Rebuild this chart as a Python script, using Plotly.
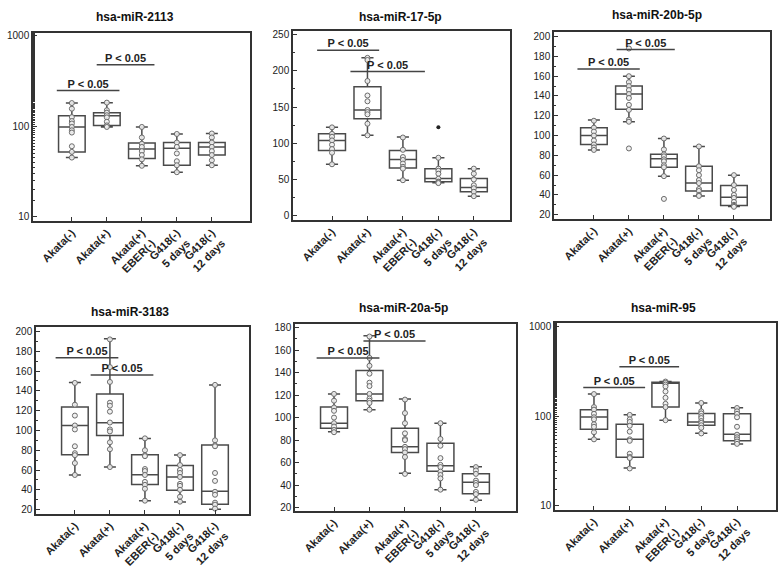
import plotly.graph_objects as go

categories = ["Akata(-)", "Akata(+)", "Akata(+)<br>EBER(-)", "G418(-)<br>5 days", "G418(-)<br>12 days"]
titles = ["hsa-miR-2113", "hsa-miR-17-5p", "hsa-miR-20b-5p", "hsa-miR-3183", "hsa-miR-20a-5p", "hsa-miR-95"]

# ---- hsa-miR-2113 ----
p1_lo = [45, 98, 36.5, 31, 37]
p1_q1 = [52, 102, 44, 37, 48]
p1_med = [98, 130, 56, 57, 59]
p1_q3 = [130, 141, 65, 66, 66]
p1_hi = [180, 182, 98, 82, 83]
p1_pts = [[180, 156, 126, 114, 107, 98, 90, 85, 60, 52, 45],
          [182, 150, 141, 132, 125, 112, 102, 98],
          [98, 75, 64, 59, 53, 48, 43, 36.5],
          [82, 66, 59, 50, 41, 37, 31],
          [83, 75, 66, 59, 53, 48, 42, 37]]
p1_out = [[], [], [], [], []]
p1_br = [(-0.43, 1.36, 248), (0.71, 2.36, 478)]

# ---- hsa-miR-17-5p ----
p2_lo = [71, 111, 49, 45.6, 27]
p2_q1 = [90, 134, 66, 47, 33]
p2_med = [104, 146, 77.5, 51.5, 39]
p2_q3 = [113, 178, 90, 65, 51.5]
p2_hi = [122, 218, 108.6, 80, 65]
p2_pts = [[122, 113, 109, 104, 98, 92, 87, 71],
          [218, 215, 186, 166, 158, 146, 143, 140, 127, 111],
          [108, 91, 81, 77, 72, 67.5, 65, 49],
          [80, 65, 62, 58, 51, 47, 46, 45],
          [65, 58, 50, 42, 38, 33, 27]]
p2_out = [[], [], [], [122], []]
p2_br = [(-0.42, 1.33, 228.6), (0.52, 2.62, 199)]

# ---- hsa-miR-20b-5p ----
p3_lo = [85.5, 114, 59, 39, 28.3]
p3_q1 = [91, 126.5, 68, 44, 29.3]
p3_med = [100, 142, 76.5, 52, 37.6]
p3_q3 = [108, 150, 81, 69, 49.6]
p3_hi = [115.8, 160, 97, 89, 60]
p3_pts = [[115, 108, 104, 100, 95, 91, 88, 85.5],
          [188, 160, 154, 150, 146, 142, 138, 131, 126, 116, 114, 87],
          [97, 86, 81, 79, 76, 74, 70, 68, 59, 36],
          [89, 69, 65, 60, 55, 52, 46, 44, 40, 39],
          [60, 50, 45, 40, 37, 33, 30, 29, 28]]
p3_out = [[], [], [], [], []]
p3_br = [(-0.47, 1.31, 167.4), (0.65, 2.31, 187)]

# ---- hsa-miR-3183 ----
p4_lo = [55, 63, 29, 27.6, 20.3]
p4_q1 = [75.5, 95, 45.3, 39.6, 25.3]
p4_med = [105, 107.8, 55.3, 53, 38.6]
p4_q3 = [123.8, 136.8, 75.5, 64.6, 85.2]
p4_hi = [148.4, 192.6, 91.9, 75.2, 146]
p4_pts = [[148, 126, 115, 105, 101, 84, 77, 75, 67, 55],
          [192, 164, 149, 128, 125, 119, 108, 101, 99, 88, 81, 63],
          [92, 80, 75, 74, 61, 59, 55, 48, 45, 41, 29],
          [75, 65, 60, 57, 53, 46, 44, 40, 33, 28],
          [146, 90, 85, 84, 57, 49, 38, 35, 27, 25, 21]]
p4_out = [[], [], [], [], []]
p4_br = [(-0.55, 1.24, 173.4), (0.45, 2.24, 156)]

# ---- hsa-miR-20a-5p ----
p5_lo = [87.5, 107, 50.5, 36, 26.5]
p5_q1 = [90.5, 115, 69, 52.3, 32.3]
p5_med = [94.9, 121, 74, 57.3, 42.6]
p5_q3 = [109.3, 141.8, 90.5, 77.3, 50]
p5_hi = [121, 172.7, 116.6, 94.9, 56.4]
p5_pts = [[121, 115, 109, 106, 100, 95, 92, 89, 87],
          [172, 153, 146, 139, 131, 128, 121, 117, 115, 113, 107],
          [116, 104, 95, 86, 81, 80, 74, 72, 69, 65, 50],
          [95, 81, 75, 64, 58, 56, 52, 49, 46, 36],
          [56, 53, 50, 44, 42, 40, 34, 32, 27]]
p5_out = [[], [], [], [], []]
p5_br = [(-0.49, 1.28, 153), (0.83, 2.58, 168)]

# ---- hsa-miR-95 ----
p6_lo = [55.3, 26.3, 89.6, 64.4, 48.7]
p6_q1 = [71.3, 34.7, 126, 79, 53]
p6_med = [97.5, 55.3, 233, 86, 62.8]
p6_q3 = [118, 81, 239, 107, 106]
p6_hi = [176, 103.4, 243, 140, 123.5]
p6_pts = [[176, 126, 118, 106, 97, 92, 81, 76, 66, 55],
          [103, 92, 86, 78, 67, 55, 53, 38, 35, 34, 26],
          [243, 235, 225, 214, 188, 160, 137, 126, 90],
          [140, 113, 107, 100, 95, 88, 84, 79, 74, 64],
          [123, 113, 106, 97, 76, 62, 58, 55, 52, 49]]
p6_out = [[], [], [], [], []]
p6_br = [(-0.3, 1.43, 209), (0.71, 2.38, 356)]

panels = [
    (p1_lo, p1_q1, p1_med, p1_q3, p1_hi, p1_pts, p1_out, p1_br),
    (p2_lo, p2_q1, p2_med, p2_q3, p2_hi, p2_pts, p2_out, p2_br),
    (p3_lo, p3_q1, p3_med, p3_q3, p3_hi, p3_pts, p3_out, p3_br),
    (p4_lo, p4_q1, p4_med, p4_q3, p4_hi, p4_pts, p4_out, p4_br),
    (p5_lo, p5_q1, p5_med, p5_q3, p5_hi, p5_pts, p5_out, p5_br),
    (p6_lo, p6_q1, p6_med, p6_q3, p6_hi, p6_pts, p6_out, p6_br),
]

W, H = 781, 569
# pixel frames (left, right, top, bottom)
frames = [(33, 250, 31, 221), (293, 510, 29, 220), (554, 770, 30, 219),
          (36, 249, 328, 517), (295, 516, 325, 514), (555, 776, 324, 513)]
xranges = [[-1.11, 5.09], [-1.1, 5.02], [-1.14, 5.03], [-1.11, 4.97], [-1.1, 5.13], [-1.09, 5.09]]
yaxes_cfg = [
    dict(type="log", range=[0.956, 3.033], tickvals=[10, 100, 1000]),
    dict(type="linear", range=[-5.5, 255.5], tickvals=[0, 50, 100, 150, 200, 250], minor=dict(dtick=25)),
    dict(type="linear", range=[16, 205], tickvals=list(range(20, 201, 20)), minor=dict(dtick=10)),
    dict(type="linear", range=[16, 205], tickvals=list(range(20, 201, 20)), minor=dict(dtick=10)),
    dict(type="linear", range=[17.4, 183.5], tickvals=list(range(20, 181, 20)), minor=dict(dtick=10)),
    dict(type="log", range=[0.956, 3.044], tickvals=[10, 100, 1000]),
]
title_pos = [(135, 15), (400, 15), (657, 13), (130, 313), (403, 309), (663, 309)]

BOX = "#4a4a4a"
fig = go.Figure()
layout = dict(width=W, height=H, margin=dict(l=0, r=0, t=0, b=0),
              paper_bgcolor="white", plot_bgcolor="white", showlegend=False,
              font=dict(family="Liberation Sans, Arial, sans-serif", color="#222"))
annotations = []

for k, (lo, q1, med, q3, hi, pts, out, br) in enumerate(panels):
    xa = "x" if k == 0 else f"x{k+1}"
    ya = "y" if k == 0 else f"y{k+1}"
    xs = list(range(len(categories)))
    fig.add_trace(go.Box(x=xs, lowerfence=lo, q1=q1, median=med, q3=q3, upperfence=hi,
                         xaxis=xa, yaxis=ya, width=0.76, whiskerwidth=0.45,
                         fillcolor="white", line=dict(color=BOX, width=1.5),
                         boxpoints=False, hoverinfo="skip"))
    px, py = [], []
    for i, grp in enumerate(pts):
        px += [i] * len(grp)
        py += grp
    fig.add_trace(go.Scatter(x=px, y=py, mode="markers", xaxis=xa, yaxis=ya,
                             marker=dict(symbol="circle", size=5, color="rgba(240,240,240,0.9)",
                                         line=dict(color="#6a6a6a", width=1)),
                             hoverinfo="skip"))
    ox, oy = [], []
    for i, grp in enumerate(out):
        ox += [i] * len(grp)
        oy += grp
    if oy:
        fig.add_trace(go.Scatter(x=ox, y=oy, mode="markers", xaxis=xa, yaxis=ya,
                                 marker=dict(symbol="circle", size=4, color="#222"),
                                 hoverinfo="skip"))
    for (x0, x1, yv) in br:
        fig.add_trace(go.Scatter(x=[x0, x1], y=[yv, yv], mode="lines", xaxis=xa, yaxis=ya,
                                 line=dict(color="#444", width=1.5), hoverinfo="skip"))
        fig.add_trace(go.Scatter(x=[(x0 + x1) / 2], y=[yv], mode="text", text=["P < 0.05"],
                                 textposition="top center", xaxis=xa, yaxis=ya,
                                 textfont=dict(size=11, color="#222",
                                               family="Liberation Sans, Arial, sans-serif",
                                               weight="bold"),
                                 hoverinfo="skip"))
    l, r, t, b = frames[k]
    xkey = "xaxis" if k == 0 else f"xaxis{k+1}"
    ykey = "yaxis" if k == 0 else f"yaxis{k+1}"
    layout[xkey] = dict(domain=[l / W, r / W], anchor=ya, range=xranges[k],
                        tickvals=xs, ticktext=categories, tickangle=-45,
                        ticks="inside", ticklen=4, tickcolor="#333",
                        showline=True, linecolor="#333", linewidth=1.5, mirror=True,
                        showgrid=False, zeroline=False,
                        tickfont=dict(size=11, color="#222", weight="bold"))
    ycfg = yaxes_cfg[k]
    minor = dict(ticks="inside", ticklen=2, tickcolor="#333", showgrid=False)
    if "minor" in ycfg:
        minor.update(ycfg["minor"])
    layout[ykey] = dict(domain=[1 - b / H, 1 - t / H], anchor=xa, type=ycfg["type"],
                        range=ycfg["range"], tickvals=ycfg["tickvals"],
                        ticks="inside", ticklen=4, tickcolor="#333",
                        showline=True, linecolor="#333", linewidth=1.5, mirror=True,
                        showgrid=False, zeroline=False, minor=minor,
                        tickfont=dict(size=10, color="#222"))
    tx, ty = title_pos[k]
    annotations.append(dict(text=f"<b>{titles[k]}</b>", x=tx / W, y=1 - ty / H,
                            xref="paper", yref="paper", showarrow=False,
                            xanchor="center", yanchor="middle",
                            font=dict(size=12, color="#111")))

layout["annotations"] = annotations
fig.update_layout(**layout)
fig.write_html("out.html")
